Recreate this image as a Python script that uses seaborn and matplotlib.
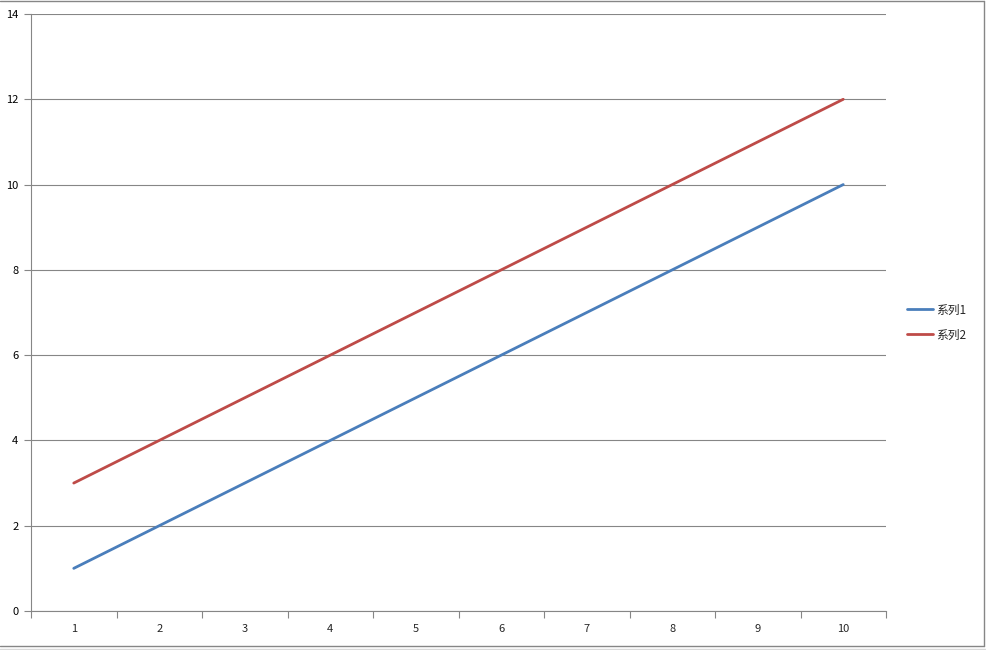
import matplotlib
matplotlib.use("Agg")
import matplotlib.pyplot as plt
import seaborn as sns
import pandas as pd

categories = [1, 2, 3, 4, 5, 6, 7, 8, 9, 10]
series1 = [1, 2, 3, 4, 5, 6, 7, 8, 9, 10]
series2 = [3, 4, 5, 6, 7, 8, 9, 10, 11, 12]
series_names = ["系列1", "系列2"]
y_ticks = [0, 2, 4, 6, 8, 10, 12, 14]

sns.set_style("white")
plt.rcParams['font.family'] = ['Noto Sans CJK SC', 'DejaVu Sans']

df = pd.DataFrame({
    "x": list(range(len(categories))) * 2,
    "y": series1 + series2,
    "series": [series_names[0]] * len(categories) + [series_names[1]] * len(categories),
})

W, H = 987, 650
fig = plt.figure(figsize=(W / 100, H / 100), dpi=100)
ax = fig.add_axes([31 / W, (H - 611) / H, (886 - 31) / W, (611 - 14) / H])

grid_c = "#868686"
colors = ["#4A7EBB", "#BE4B48"]
sns.lineplot(data=df, x="x", y="y", hue="series", ax=ax,
             palette=colors, linewidth=2.0, legend=False)

ax.set_xlim(-0.5, len(categories) - 0.5)
ax.set_ylim(0, 14)
ax.set_yticks(y_ticks)
ax.set_yticklabels([str(v) for v in y_ticks], fontsize=8, color="#000000")
ax.yaxis.grid(True, color=grid_c, linewidth=0.8)
ax.set_axisbelow(True)

# category labels at centers, tick marks at boundaries
ax.set_xticks(range(len(categories)))
ax.set_xticklabels([str(c) for c in categories], fontsize=8)
ax.tick_params(axis="x", which="major", bottom=True, length=0, pad=9)
ax.set_xticks([i - 0.5 for i in range(len(categories) + 1)], minor=True)
ax.tick_params(axis="x", which="minor", bottom=True, length=5, color=grid_c,
               width=0.8, direction="out")
ax.tick_params(axis="y", which="major", left=True, length=5, color=grid_c,
               width=0.8, direction="out", pad=4)
ax.set_xlabel("")
ax.set_ylabel("")

for s in ["top", "right"]:
    ax.spines[s].set_visible(False)
for s in ["left", "bottom"]:
    ax.spines[s].set_color(grid_c)
    ax.spines[s].set_linewidth(0.8)

# legend
handles = [plt.Line2D([], [], color=c, linewidth=2.0) for c in colors]
fig.legend(handles, series_names, loc="center left",
           bbox_to_anchor=(901 / W, 1 - 322.5 / H), frameon=False,
           fontsize=8.5, handlelength=2.2, handletextpad=0.25, labelspacing=1.0,
           borderpad=0)

# chart border (top, right, bottom)
def fig_line(x0, y0, x1, y1, color, lw=1.0):
    fig.add_artist(plt.Line2D([x0 / W, x1 / W], [1 - y0 / H, 1 - y1 / H],
                              transform=fig.transFigure, color=color, linewidth=lw))

fig_line(0, 0.5, 984.5, 0.5, "#868686")
fig_line(984.5, 0.5, 984.5, 645.5, "#868686")
fig_line(0, 645.5, 984.5, 645.5, "#868686")
fig_line(0, 648.5, W, 648.5, "#d9d9d9")

fig.savefig("out.png", dpi=100)
